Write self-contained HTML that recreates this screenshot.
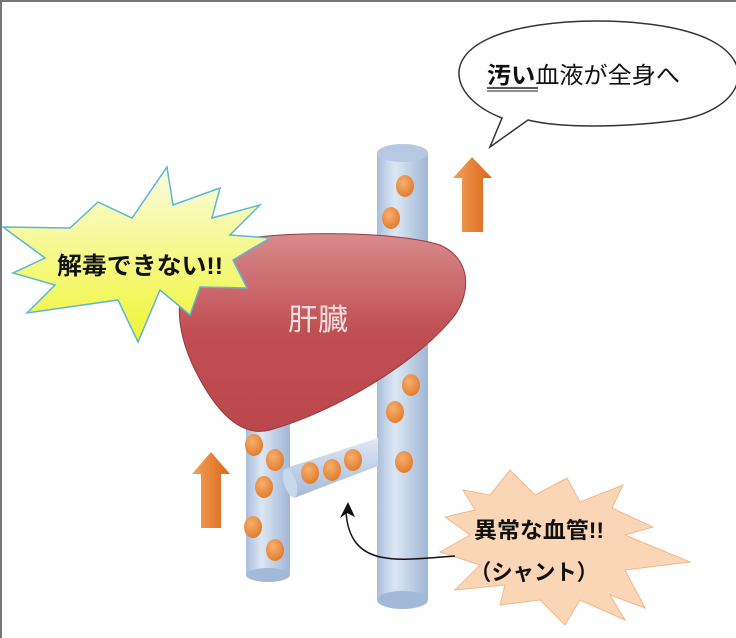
<!DOCTYPE html>
<html><head><meta charset="utf-8"><style>
html,body{margin:0;padding:0;background:#fff}
svg{display:block}
text{font-family:"Liberation Sans","Noto Sans CJK JP",sans-serif}
</style></head><body>
<svg width="736" height="638" viewBox="0 0 736 638">
<defs>
<linearGradient id="vg" x1="0" x2="1" y1="0" y2="0">
<stop offset="0" stop-color="#a9bedc"/><stop offset="0.35" stop-color="#dde7f3"/><stop offset="1" stop-color="#9fb6d6"/></linearGradient>
<linearGradient id="sg" x1="0" x2="0" y1="0" y2="1">
<stop offset="0" stop-color="#dfe8f4"/><stop offset="1" stop-color="#a5bad8"/></linearGradient>
<linearGradient id="lg" x1="0" x2="0" y1="0" y2="1">
<stop offset="0" stop-color="#d88a8c"/><stop offset="0.5" stop-color="#c04e52"/><stop offset="1" stop-color="#b9474c"/></linearGradient>
<linearGradient id="yg" x1="0" x2="0" y1="0" y2="1">
<stop offset="0" stop-color="#fbfce0"/><stop offset="1" stop-color="#f0f533"/></linearGradient>
<linearGradient id="og" x1="0" x2="1" y1="0" y2="0">
<stop offset="0" stop-color="#f6a158"/><stop offset="1" stop-color="#d8661b"/></linearGradient>
<radialGradient id="dg" cx="0.4" cy="0.35" r="0.7">
<stop offset="0" stop-color="#f7b070"/><stop offset="1" stop-color="#e07a2a"/></radialGradient>
</defs>
<rect x="0" y="0" width="736" height="2" fill="#777"/>
<rect x="0" y="0" width="2" height="638" fill="#777"/>

<rect x="377" y="153" width="51" height="447" fill="url(#vg)"/>
<ellipse cx="402.5" cy="600" rx="25.5" ry="9" fill="#a3b9d8"/>
<ellipse cx="402.5" cy="153" rx="25.5" ry="9" fill="#b6c8e2"/>
<rect x="246" y="410" width="44" height="165" fill="url(#vg)"/>
<ellipse cx="268" cy="575" rx="22" ry="7" fill="#a3b9d8"/>
<polygon points="286,468 378,438 378,466 294,498" fill="url(#sg)"/>
<ellipse cx="290" cy="483" rx="6" ry="15" fill="#c9d7ea" transform="rotate(-18 290 483)"/>

<g fill="url(#dg)">
<ellipse cx="405" cy="186" rx="9" ry="11"/><ellipse cx="391" cy="218" rx="9" ry="11"/>
<ellipse cx="411" cy="385" rx="9" ry="11"/><ellipse cx="395" cy="412" rx="9" ry="11"/>
<ellipse cx="404" cy="462" rx="9" ry="11"/>
<ellipse cx="254" cy="445" rx="9" ry="11"/><ellipse cx="275" cy="460" rx="9" ry="11"/>
<ellipse cx="264" cy="487" rx="9" ry="11"/><ellipse cx="253" cy="527" rx="9" ry="11"/>
<ellipse cx="275" cy="550" rx="9" ry="11"/>
<ellipse cx="310" cy="473" rx="9" ry="11"/><ellipse cx="332" cy="470" rx="9" ry="11"/>
<ellipse cx="353" cy="460" rx="9" ry="11"/>
</g>

<path d="M232,240 C300,230 400,232 440,245 C470,258 472,290 455,315 C420,360 340,410 270,430 C240,438 215,410 195,370 C178,335 175,305 185,280 C195,255 210,243 232,240 Z" fill="url(#lg)" stroke="#9a3a3e" stroke-width="1"/>
<text x="318" y="330" font-size="30" fill="#f4dede" text-anchor="middle">肝臓</text>

<polygon points="3,227 70,228 98,202 132,218 167,167 173,205 220,188 212,218 260,205 230,235 270,238 233,260 247,288 200,287 190,315 160,290 138,342 118,300 27,313 55,285 13,273 45,258" fill="url(#yg)" stroke="#5bb7d8" stroke-width="1.5"/>
<text x="57" y="274" font-size="24" font-weight="bold" fill="#111" textLength="166" lengthAdjust="spacingAndGlyphs">解毒できない!!</text>

<path d="M502,118 C455,100 440,60 490,38 C540,15 660,15 710,40 C760,65 740,110 680,120 C620,128 560,128 528,120 L490,147 Z" fill="#fff" stroke="#333" stroke-width="1.5"/>
<text x="487" y="83" font-size="23" fill="#111" textLength="193" lengthAdjust="spacingAndGlyphs"><tspan font-weight="bold">汚い</tspan>血液が全身へ</text>
<line x1="487" y1="88" x2="538" y2="88" stroke="#222" stroke-width="1.5"/>
<line x1="487" y1="91" x2="538" y2="91" stroke="#222" stroke-width="1"/>

<polygon points="472,157 492,178 483,178 483,232 462,232 462,178 453,178" fill="url(#og)"/>
<polygon points="211,452 230,474 221,474 221,528 201,528 201,474 192,474" fill="url(#og)"/>

<polygon points="463,490 490,495 510,470 535,495 567,478 580,502 623,485 612,508 653,527 625,535 690,562 625,570 645,608 610,595 625,620 580,600 565,625 540,600 500,605 505,585 455,590 480,565 440,552 470,535 445,517 475,510" fill="#fad5b6" stroke="#f0b88c" stroke-width="1"/>
<text x="474" y="538" font-size="22" font-weight="bold" fill="#111" textLength="130" lengthAdjust="spacingAndGlyphs">異常な血管!!</text>
<text x="470" y="580" font-size="22" font-weight="bold" fill="#111" textLength="128" lengthAdjust="spacingAndGlyphs">（シャント）</text>

<path d="M455,556 C400,560 350,570 346,512" fill="none" stroke="#111" stroke-width="1.5"/>
<polygon points="348,502 340,518 347,513 355,517" fill="#111"/>
</svg>
</body></html>
